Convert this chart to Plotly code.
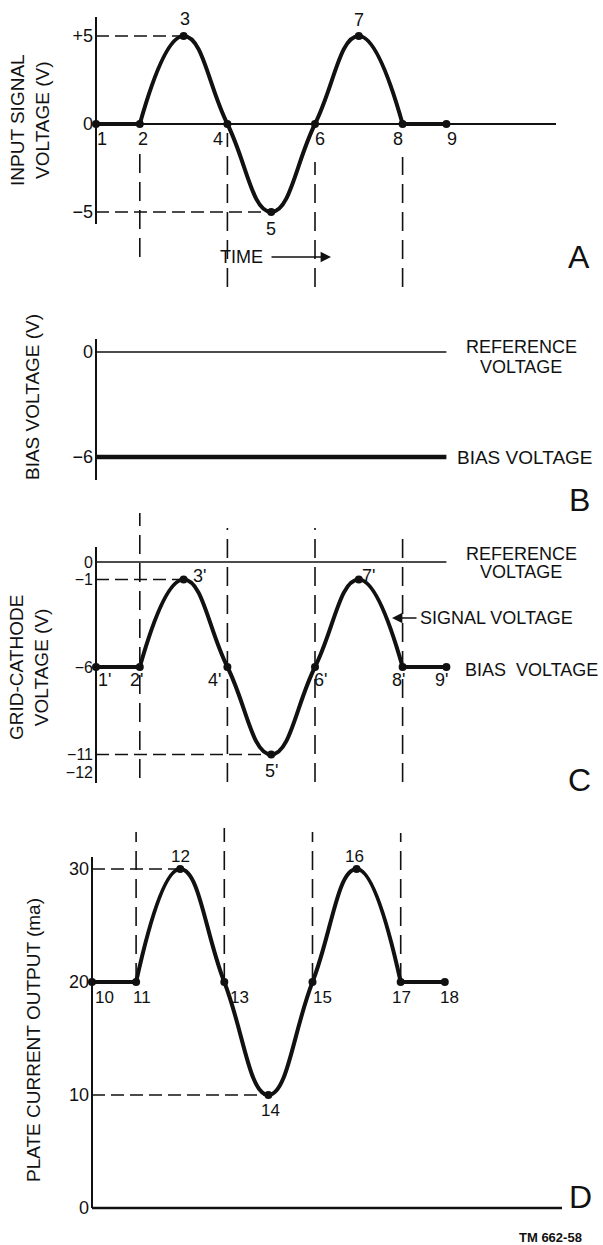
import plotly.graph_objects as go

W, H = 603, 1245

# ---- data -------------------------------------------------------------
# one time unit between neighbouring labelled points
time_steps = [0, 1, 2, 3, 4, 5, 6, 7, 8]

input_signal_v = [0, 0, 5, 0, -5, 0, 5, 0, 0]
input_point_labels = ["1", "2", "3", "4", "5", "6", "7", "8", "9"]

bias_span = [0, 8]
reference_v = [0, 0]
bias_v = [-6, -6]

grid_cathode_v = [-6, -6, -1, -6, -11, -6, -1, -6, -6]
grid_point_labels = ["1'", "2'", "3'", "4'", "5'", "6'", "7'", "8'", "9'"]

plate_current_ma = [20, 20, 30, 20, 10, 20, 30, 20, 20]
plate_point_labels = ["10", "11", "12", "13", "14", "15", "16", "17", "18"]

ticks_a = [5, 0, -5]
ticklabels_a = ["+5", "0", "\u22125"]
ticks_b = [0, -6]
ticklabels_b = ["0", "\u22126"]
ticks_c = [0, -1, -6, -11, -12]
ticklabels_c = ["0", "\u22121", "\u22126", "\u221211", "\u221212"]
ticks_d = [0, 10, 20, 30]
ticklabels_d = ["0", "10", "20", "30"]

# ---- panel geometry (pixels) ------------------------------------------
PANELS = {
    "a": dict(n=1, band=(0, 300), x0=96, xs=43.8, y0=124, ys=17.6, axis_px=(17, 224),
              ticks=ticks_a, ticktext=ticklabels_a, tick_size=18),
    "b": dict(n=2, band=(300, 505), x0=96, xs=43.8, y0=352, ys=17.5, axis_px=(339, 480),
              ticks=ticks_b, ticktext=ticklabels_b, tick_size=18),
    "c": dict(n=3, band=(505, 800), x0=96, xs=43.8, y0=562, ys=17.5, axis_px=(547, 783),
              ticks=ticks_c, ticktext=ticklabels_c, tick_size=16),
    "d": dict(n=4, band=(800, 1245), x0=92, xs=44.1, y0=1208, ys=11.3, axis_px=(857, 1208),
              ticks=ticks_d, ticktext=ticklabels_d, tick_size=18),
}

FONT = "Liberation Sans, Arial, sans-serif"
INK = "#111111"


def sfx(p):
    return "" if p["n"] == 1 else str(p["n"])


def val_at(p, py):
    return (p["y0"] - py) / p["ys"]


def t_at(p, px):
    return (px - p["x0"]) / p["xs"]


def px_x(px):
    return px / W


def px_y(py):
    return 1 - py / H


fig = go.Figure()
layout = dict(
    width=W, height=H, margin=dict(l=0, r=0, t=0, b=0),
    paper_bgcolor="white", plot_bgcolor="rgba(0,0,0,0)",
    showlegend=False, font=dict(family=FONT, color=INK, size=18),
)
shapes = []
annotations = []

for key, p in PANELS.items():
    s = sfx(p)
    top, bot = p["band"]
    layout["xaxis" + s] = dict(
        domain=[0, 1], range=[-p["x0"] / p["xs"], (W - p["x0"]) / p["xs"]],
        visible=False, anchor="y" + s, fixedrange=True,
    )
    layout["yaxis" + s] = dict(
        domain=[1 - bot / H, 1 - top / H], range=[val_at(p, bot), val_at(p, top)],
        anchor="free", position=p["x0"] / W, showgrid=False, zeroline=False,
        showline=False, ticks="", tickvals=p["ticks"], ticktext=p["ticktext"],
        tickfont=dict(size=p["tick_size"], family=FONT, color=INK), ticklabelstandoff=3,
        fixedrange=True,
    )
    # vertical axis line
    a0, a1 = p["axis_px"]
    shapes.append(dict(type="line", xref="x" + s, yref="y" + s, x0=0, x1=0,
                       y0=val_at(p, a1), y1=val_at(p, a0),
                       line=dict(color=INK, width=2)))


def add_line(p, xs, ys, width, shape="linear"):
    s = sfx(p)
    fig.add_trace(go.Scatter(
        x=xs, y=ys, mode="lines", xaxis="x" + s, yaxis="y" + s,
        line=dict(color=INK, width=width, shape=shape, smoothing=1.3),
        hoverinfo="skip",
    ))


def add_wave(p, values, labels, offsets, label_size):
    s = sfx(p)
    add_line(p, time_steps[0:2], values[0:2], 4)
    add_line(p, time_steps[1:8], values[1:8], 4, shape="spline")
    add_line(p, time_steps[7:9], values[7:9], 4)
    fig.add_trace(go.Scatter(
        x=time_steps, y=values, mode="markers", xaxis="x" + s, yaxis="y" + s,
        marker=dict(color=INK, size=8), cliponaxis=False, hoverinfo="skip",
    ))
    for t, v, lab, (dx, dy) in zip(time_steps, values, labels, offsets):
        annotations.append(dict(
            xref="x" + s, yref="y" + s, x=t, y=v, text=lab, showarrow=False,
            xshift=dx, yshift=dy, font=dict(size=label_size, family=FONT, color=INK),
        ))


def dashed_h(p, value, t_end):
    s = sfx(p)
    shapes.append(dict(type="line", xref="x" + s, yref="y" + s, x0=0, x1=t_end,
                       y0=value, y1=value,
                       line=dict(color=INK, width=1.6, dash="13px,6px")))


def dashed_v(p, t, v_top, v_bot):
    s = sfx(p)
    shapes.append(dict(type="line", xref="x" + s, yref="y" + s, x0=t, x1=t,
                       y0=v_bot, y1=v_top,
                       line=dict(color=INK, width=1.6, dash="19px,9px")))


def text_px(x, y, text, size=18, xanchor="center", bold=False, angle=0):
    annotations.append(dict(
        xref="paper", yref="paper", x=px_x(x), y=px_y(y), text=text,
        showarrow=False, xanchor=xanchor, yanchor="middle", textangle=angle,
        font=dict(size=size, family=FONT, color=INK,
                  weight="bold" if bold else "normal"),
    ))


def arrow_px(x_head, y, x_tail):
    annotations.append(dict(
        xref="paper", yref="paper", x=px_x(x_head), y=px_y(y), text="",
        showarrow=True, ax=x_tail - x_head, ay=0, arrowhead=2, arrowsize=1.3,
        arrowwidth=1.6, arrowcolor=INK,
    ))


# ---- A: input signal ----------------------------------------------------
pa = PANELS["a"]
add_line(pa, [0, t_at(pa, 556)], [0, 0], 2)
add_wave(pa, input_signal_v, input_point_labels,
         [(6, -15), (3, -15), (1, 17), (-9, -15), (0, -17), (5, -15), (0, 16), (-5, -15), (6, -15)],
         18)
dashed_h(pa, input_signal_v[2], time_steps[2])
dashed_h(pa, input_signal_v[4], time_steps[4])
for t, top_px, bot_px in [(1, 148, 257), (3, 133, 287), (5, 162, 287), (7, 157, 287)]:
    dashed_v(pa, t, val_at(pa, top_px), val_at(pa, bot_px))
text_px(241, 257, "TIME", 18)
arrow_px(331, 257, 270)
text_px(579, 257, "A", 32)
text_px(30, 120, "INPUT SIGNAL<br>VOLTAGE (V)", 19, angle=-90)

# ---- B: bias ------------------------------------------------------------
pb = PANELS["b"]
add_line(pb, bias_span, reference_v, 1.5)
add_line(pb, bias_span, bias_v, 4.5)
text_px(521, 347, "REFERENCE", 18)
text_px(521, 367, "VOLTAGE", 18)
text_px(455, 457, "BIAS VOLTAGE", 19, xanchor="left")
text_px(579, 500, "B", 32)
text_px(33, 397, "BIAS VOLTAGE (V)", 19, angle=-90)

# ---- C: grid-cathode ----------------------------------------------------
pc = PANELS["c"]
add_line(pc, bias_span, reference_v, 1.5)
add_wave(pc, grid_cathode_v, grid_point_labels,
         [(8, -13), (-3, -13), (16, 4), (-13, -13), (0, -16), (5, -13), (10, 4), (-4, -13), (-5, -13)],
         18)
dashed_h(pc, grid_cathode_v[2], time_steps[2])
dashed_h(pc, grid_cathode_v[4], time_steps[4])
for t, top_px, bot_px in [(1, 513, 778), (3, 528, 782), (5, 528, 782), (7, 532, 782)]:
    dashed_v(pc, t, val_at(pc, top_px), val_at(pc, bot_px))
text_px(521, 554, "REFERENCE", 18)
text_px(521, 572, "VOLTAGE", 18)
arrow_px(392, 618, 418)
text_px(418, 618, "SIGNAL VOLTAGE", 18, xanchor="left")
text_px(463, 670, "BIAS  VOLTAGE", 18, xanchor="left")
text_px(579, 780, "C", 32)
text_px(29, 668, "GRID-CATHODE<br>VOLTAGE (V)", 19, angle=-90)

# ---- D: plate current ---------------------------------------------------
pd_ = PANELS["d"]
add_line(pd_, [0, t_at(pd_, 562)], [0, 0], 2.5)
add_wave(pd_, plate_current_ma, plate_point_labels,
         [(12, -15), (6, -15), (0, 13), (15, -15), (2, -15), (10, -15), (-2, 13), (1, -15), (5, -15)],
         17)
dashed_h(pd_, plate_current_ma[2], time_steps[2])
dashed_h(pd_, plate_current_ma[4], time_steps[4])
for t, top_px in [(1, 832), (3, 828), (5, 832), (7, 833)]:
    dashed_v(pd_, t, val_at(pd_, top_px), plate_current_ma[t])
text_px(580, 1197, "D", 32)
text_px(33, 1040, "PLATE CURRENT OUTPUT (ma)", 19, angle=-90)
text_px(550, 1237, "TM 662-58", 13, bold=True)

layout["shapes"] = shapes
layout["annotations"] = annotations
fig.update_layout(**layout)
fig.write_html("out.html")
